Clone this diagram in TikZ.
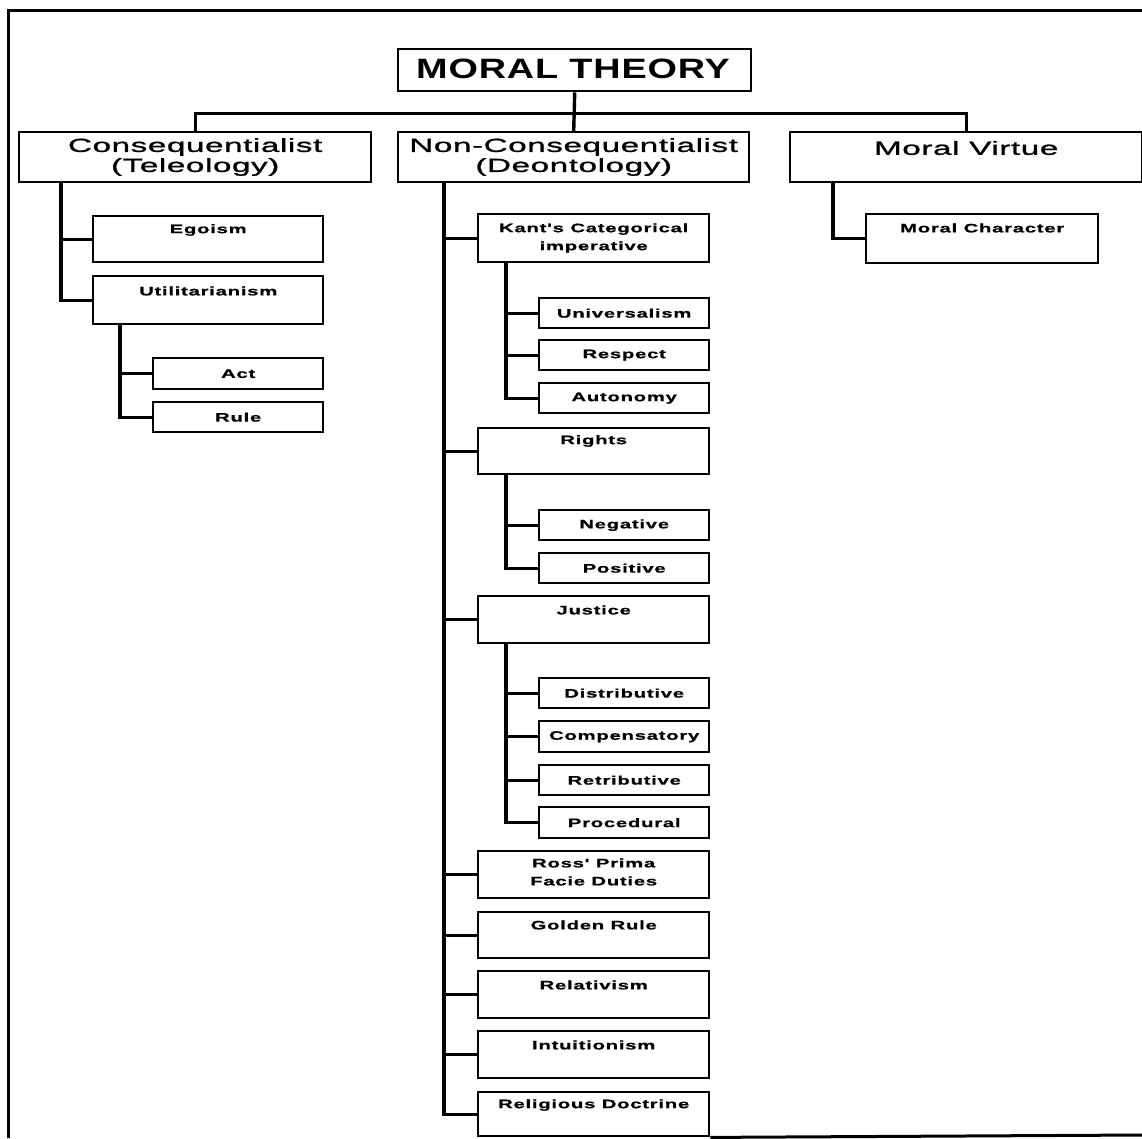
\documentclass[tikz,border=0pt]{standalone}
\usepackage{fontspec}
\setmainfont{Liberation Sans}
\newfontfamily\titlefam[FakeStretch=1.35,LetterSpace=3]{Liberation Sans}
\newfontfamily\headfam[FakeStretch=1.75,LetterSpace=3,FakeBold=1.2]{Liberation Sans}
\newfontfamily\labfam[FakeStretch=1.65,LetterSpace=6,FakeBold=0.8]{Liberation Sans}
\newcommand\labtitle{\titlefam\bfseries\fontsize{28}{30}\selectfont}
\newcommand\labhead{\headfam\fontsize{19}{20}\selectfont}
\newcommand\labsmall{\labfam\bfseries\fontsize{12.3}{18}\selectfont}

\tikzset{
  bx/.style={draw, line width=2.4pt, inner sep=0pt, anchor=north west},
  cn/.style={line width=3.4pt, line join=miter},
  frameline/.style={line width=3pt},
  tlab/.style={font=\labtitle, inner sep=0pt, align=center},
  hlab/.style={font=\labhead, inner sep=0pt, align=center},
  slab/.style={font=\labsmall, inner sep=0pt, align=center},
}

% box: name, x, y (top left), width, height
\newcommand\mkbox[5]{\node[bx, minimum width=#4pt, minimum height=#5pt] (#1) at (#2,#3) {};}

\begin{document}
\begin{tikzpicture}[x=1pt, y=-1pt]
\fill[white] (0,0) rectangle (1142,1138);
\useasboundingbox (0,0) rectangle (1142,1138);

% page frame
\draw[frameline] (8,1138) -- (8,10) -- (1142,10);

% root
\mkbox{moral}{397}{48}{353}{42}
\node[tlab] (moral-t) at (573,69) {MORAL THEORY};

% first level
\mkbox{cons}{18}{131}{352}{50}
\node[hlab] (cons-t) at ([yshift=-26pt]cons.north) {Consequentialist\\(Teleology)};
\mkbox{noncons}{397}{131}{351}{50}
\node[hlab] (noncons-t) at ([yshift=-26pt]noncons.north) {Non-Consequentialist\\(Deontology)};
\mkbox{mv}{789}{131}{352}{50}
\node[hlab] (mv-t) at ([yshift=-17pt]mv.north) {Moral Virtue};

% consequentialist branch
\mkbox{ego}{92}{215}{230}{46}
\node[slab] (ego-t) at ([yshift=-15pt]ego.north) {Egoism};
\mkbox{util}{92}{275}{230}{48}
\node[slab] (util-t) at ([yshift=-16pt]util.north) {Utilitarianism};
\mkbox{act}{152}{357}{170}{31}
\node[slab] (act-t) at (act.center) {Act};
\mkbox{rule}{152}{401}{170}{30}
\node[slab] (rule-t) at (rule.center) {Rule};

% non-consequentialist branch
\mkbox{kant}{477}{213}{231}{48}
\node[slab] (kant-t) at ([yshift=-25pt]kant.north) {Kant's Categorical\\imperative};
\mkbox{univ}{538}{297}{170}{30}
\node[slab] (univ-t) at (univ.center) {Universalism};
\mkbox{resp}{538}{339}{170}{30}
\node[slab] (resp-t) at (resp.center) {Respect};
\mkbox{auto}{538}{382}{170}{30}
\node[slab] (auto-t) at (auto.center) {Autonomy};

\mkbox{rights}{477}{427}{231}{46}
\node[slab] (rights-t) at ([yshift=-14pt]rights.north) {Rights};
\mkbox{neg}{538}{509}{170}{30}
\node[slab] (neg-t) at (neg.center) {Negative};
\mkbox{pos}{538}{552}{170}{30}
\node[slab] (pos-t) at (pos.center) {Positive};

\mkbox{just}{477}{595}{231}{47}
\node[slab] (just-t) at ([yshift=-15pt]just.north) {Justice};
\mkbox{dist}{538}{677}{170}{30}
\node[slab] (dist-t) at (dist.center) {Distributive};
\mkbox{comp}{538}{720}{170}{31}
\node[slab] (comp-t) at (comp.center) {Compensatory};
\mkbox{retr}{538}{764}{170}{30}
\node[slab] (retr-t) at (retr.center) {Retributive};
\mkbox{proc}{538}{806}{170}{31}
\node[slab] (proc-t) at (proc.center) {Procedural};

\mkbox{ross}{477}{850}{231}{47}
\node[slab] (ross-t) at ([yshift=-22pt]ross.north) {Ross' Prima\\Facie Duties};
\mkbox{golden}{477}{911}{231}{46}
\node[slab] (golden-t) at ([yshift=-14pt]golden.north) {Golden Rule};
\mkbox{rel}{477}{970}{231}{47}
\node[slab] (rel-t) at ([yshift=-15pt]rel.north) {Relativism};
\mkbox{intu}{477}{1030}{231}{47}
\node[slab] (intu-t) at ([yshift=-15pt]intu.north) {Intuitionism};
\mkbox{relig}{477}{1091}{231}{44}
\node[slab] (relig-t) at ([yshift=-14pt]relig.north) {Religious Doctrine};

% moral virtue branch
\mkbox{mc}{865}{213}{232}{49}
\node[slab] (mc-t) at ([yshift=-15pt]mc.north) {Moral Character};

% frame bottom edge continues from the last box
\draw[frameline] (relig.south east) -- (1142,1135);

% root connectors
\draw[cn] (moral.south) -- (noncons.north);
\draw[cn] (cons.north) |- ([yshift=-21pt]moral.south) -| (mv.north);

% consequentialist connectors
\foreach \c in {ego,util}
  \draw[cn] ([xshift=43pt]cons.south west) |- (\c.west);
\foreach \c in {act,rule}
  \draw[cn] ([xshift=28pt]util.south west) |- (\c.west);

% non-consequentialist connectors
\foreach \c in {kant,rights,just,ross,golden,rel,intu,relig}
  \draw[cn] ([xshift=47pt]noncons.south west) |- (\c.west);
\foreach \c in {univ,resp,auto}
  \draw[cn] ([xshift=29pt]kant.south west) |- (\c.west);
\foreach \c in {neg,pos}
  \draw[cn] ([xshift=29pt]rights.south west) |- (\c.west);
\foreach \c in {dist,comp,retr,proc}
  \draw[cn] ([xshift=29pt]just.south west) |- (\c.west);

% moral virtue connector
\draw[cn] ([xshift=44pt]mv.south west) |- (mc.west);
\end{tikzpicture}
\end{document}
